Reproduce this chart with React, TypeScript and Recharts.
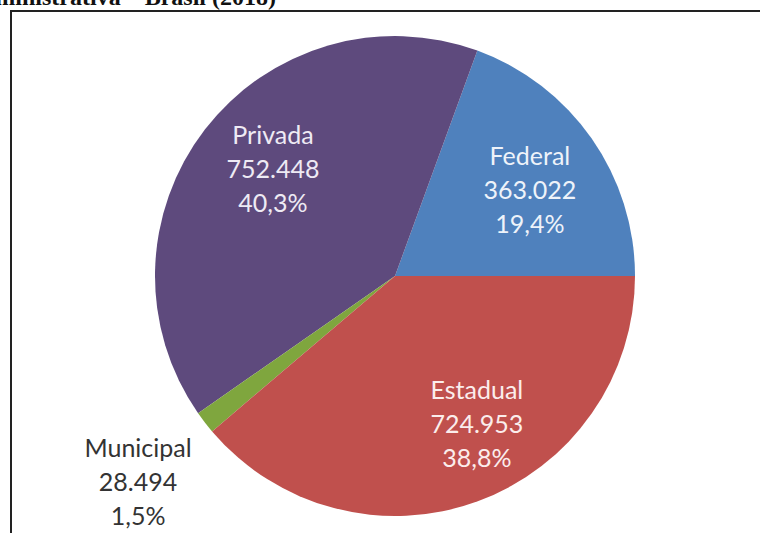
import { PieChart, Pie, Cell } from "recharts";

const NAMES = ["Federal", "Privada", "Municipal", "Estadual"];
const VALUES = [363022, 752448, 28494, 724953];
const COLORS = ["#4F81BD", "#5E4A7D", "#7FA63E", "#C0504D"];
const TITLE = "Administrativa – Brasil (2018)";

// label placement per slice: radius factor and angle nudge (degrees)
const LABEL_POS: Record<string, { r: number; da: number; color: string }> = {
  Federal: { r: 0.67, da: -2, color: "#EEF3FA" },
  Privada: { r: 0.68, da: -4, color: "#EEEAF4" },
  Municipal: { r: 1.37, da: 1, color: "#333333" },
  Estadual: { r: 0.7, da: 9, color: "#FBEDEC" },
};

const RADIAN = Math.PI / 180;
const total = VALUES.reduce((a, b) => a + b, 0);
const data = NAMES.map((name, i) => ({ name, value: VALUES[i] }));

const fmtThousands = (v: number) =>
  String(v).replace(/\B(?=(\d{3})+(?!\d))/g, ".");
const fmtPct = (v: number) => ((v / total) * 100).toFixed(1).replace(".", ",") + "%";

const renderLabel = (props: any) => {
  const { cx, cy, midAngle, outerRadius, name, value } = props;
  const pos = LABEL_POS[name];
  const a = (midAngle + pos.da) * RADIAN;
  const r = outerRadius * pos.r;
  const x = cx + r * Math.cos(a);
  const y = cy - r * Math.sin(a);
  return (
    <text
      x={x}
      y={y}
      fill={pos.color}
      textAnchor="middle"
      dominantBaseline="central"
      fontFamily="Lato, 'Open Sans', sans-serif"
      fontSize={25}
    >
      <tspan x={x} dy={-34}>{name}</tspan>
      <tspan x={x} dy={34}>{fmtThousands(value)}</tspan>
      <tspan x={x} dy={34}>{fmtPct(value)}</tspan>
    </text>
  );
};

export default function App() {
  return (
    <div
      style={{
        position: "absolute",
        left: 0,
        top: 0,
        width: 760,
        height: 533,
        overflow: "hidden",
        background: "#fff",
      }}
    >
      <div
        style={{
          position: "absolute",
          right: 484,
          top: -14,
          fontFamily: "'Liberation Serif', 'Times New Roman', serif",
          fontWeight: "bold",
          fontSize: 24,
          lineHeight: "22px",
          whiteSpace: "nowrap",
          color: "#111",
        }}
      >
        {TITLE}
      </div>
      <div
        style={{
          position: "absolute",
          left: 10,
          top: 10,
          width: 800,
          height: 600,
          border: "2px solid #222",
        }}
      />
      <div style={{ position: "absolute", left: 0, top: 0 }}>
        <PieChart width={760} height={533}>
          <Pie
            data={data}
            dataKey="value"
            nameKey="name"
            cx={390}
            cy={271}
            outerRadius={240}
            startAngle={0}
            endAngle={360}
            stroke="none"
            label={renderLabel}
            labelLine={false}
            isAnimationActive={false}
          >
            {data.map((d, i) => (
              <Cell key={d.name} fill={COLORS[i]} />
            ))}
          </Pie>
        </PieChart>
      </div>
    </div>
  );
}
